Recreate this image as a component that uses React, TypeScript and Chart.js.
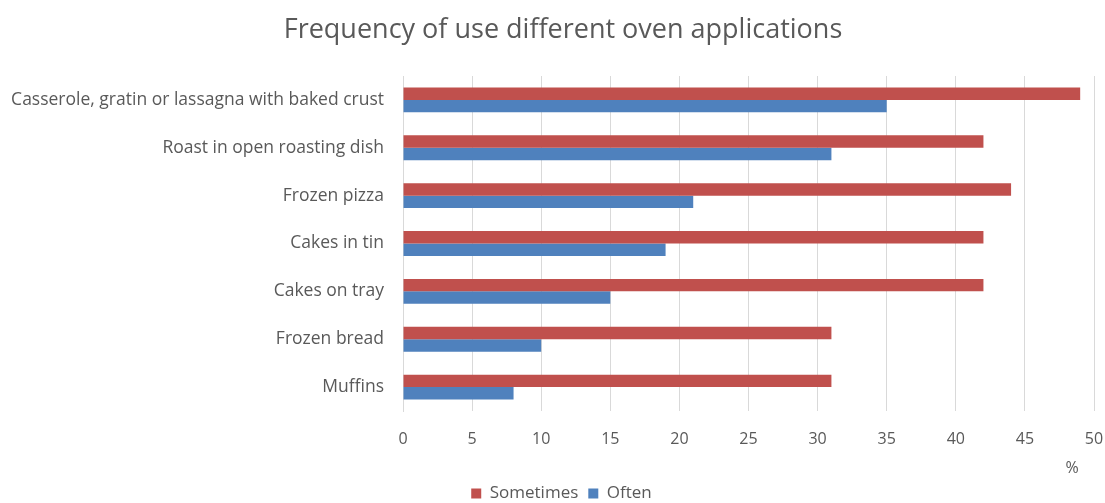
import React, { useEffect, useRef } from "react";
import { Chart, registerables } from "chart.js";

Chart.register(...registerables);

const chartTitle = "Frequency of use different oven applications";
const xAxisTitle = "%";
const categories = [
  "Casserole, gratin or lassagna with baked crust",
  "Roast in open roasting dish",
  "Frozen pizza",
  "Cakes in tin",
  "Cakes on tray",
  "Frozen bread",
  "Muffins",
];
const sometimes = [49, 42, 44, 42, 42, 31, 31];
const often = [35, 31, 21, 19, 15, 10, 8];
const xTicks = [0, 5, 10, 15, 20, 25, 30, 35, 40, 45, 50];

const FONT = "'Open Sans', 'Liberation Sans', sans-serif";
const TEXT = "#595959";

const textPlugin = {
  id: "customTexts",
  afterDraw(chart: any) {
    const c = chart.ctx;
    c.save();
    c.fillStyle = TEXT;
    c.textAlign = "center";
    c.textBaseline = "middle";
    c.font = `27px ${FONT}`;
    c.fillText(chartTitle, 563, 30);
    c.font = `16px ${FONT}`;
    c.fillText(xAxisTitle, 1072, 468);
    c.restore();
  },
};

export default function App() {
  const ref = useRef<HTMLCanvasElement | null>(null);
  useEffect(() => {
    document.body.style.margin = "0";
    const ctx = ref.current!;
    const chart = new Chart(ctx, {
      type: "bar",
      data: {
        labels: categories,
        datasets: [
          { label: "Sometimes", data: sometimes, backgroundColor: "#C0504D", categoryPercentage: 0.52, barPercentage: 1 },
          { label: "Often", data: often, backgroundColor: "#4F81BD", categoryPercentage: 0.52, barPercentage: 1 },
        ],
      },
      plugins: [textPlugin],
      options: {
        indexAxis: "y",
        animation: false,
        responsive: false,
        maintainAspectRatio: false,
        layout: { padding: { left: 0, right: -18, top: 76, bottom: -9 } },
        plugins: {
          title: { display: false },
          legend: {
            position: "bottom",
            labels: {
              color: TEXT,
              font: { family: FONT, size: 17 },
              boxWidth: 10,
              boxHeight: 10,
              padding: 10,
            },
          },
          tooltip: { enabled: false },
        },
        scales: {
          x: {
            min: 0,
            max: 50,
            afterBuildTicks: (s: any) => {
              s.ticks = xTicks.map((v) => ({ value: v }));
            },
            afterFit: (s: any) => {
              s.height = 64;
              s.paddingRight = 11;
              s.paddingLeft = 0;
            },
            ticks: { color: TEXT, font: { family: FONT, size: 16 }, padding: 19 },
            grid: { color: "#D9D9D9", drawTicks: false },
            border: { display: false },
          },
          y: {
            afterFit: (s: any) => {
              s.width = 403;
            },
            ticks: { color: TEXT, font: { family: FONT, size: 17.5 }, padding: 11 },
            grid: { display: false },
            border: { display: true, color: "#D9D9D9" },
          },
        },
      },
    });
    return () => chart.destroy();
  }, []);
  return (
    <div style={{ width: 1105, height: 503 }}>
      <canvas ref={ref} width={1105} height={503} style={{ display: "block" }} />
    </div>
  );
}
